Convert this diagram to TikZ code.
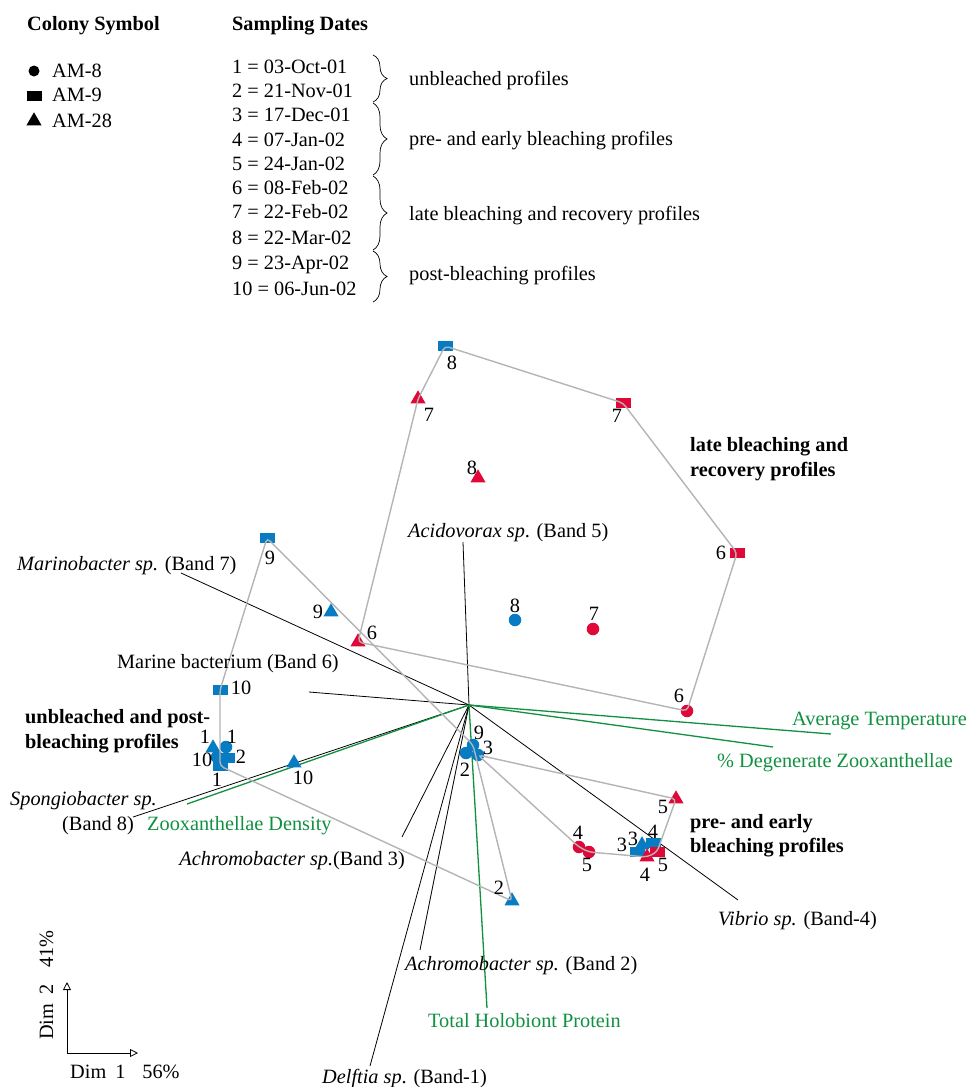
\documentclass[tikz,border=0pt]{standalone}
\usepackage{fontspec}
\setmainfont{Liberation Serif}
\usetikzlibrary{shapes.geometric,decorations.pathreplacing,arrows.meta}
\definecolor{amblue}{RGB}{8,124,194}
\definecolor{amred}{RGB}{224,8,56}
\definecolor{amgreen}{RGB}{16,144,64}
\definecolor{amgrey}{RGB}{180,180,180}

\begin{document}
\begin{tikzpicture}[x=1pt,y=-1pt]
\tikzstyle{every node}+=[inner sep=0pt,font=\fontsize{20.3}{24}\selectfont]
\tikzstyle{amdot}=[circle,minimum size=12.5pt]
\tikzstyle{amsq}=[rectangle,minimum width=15pt,minimum height=10.5pt]
\tikzstyle{amtri}=[regular polygon,regular polygon sides=3,minimum size=17.5pt]
\tikzstyle{vec}=[black,line width=0.8pt]
\tikzstyle{env}=[amgreen,line width=1.3pt]
\tikzstyle{hull}=[amgrey,line width=1.4pt,rounded corners=4pt]
\tikzstyle{lab}=[anchor=base west]
\tikzstyle{grp}=[anchor=base west,font=\fontsize{20.3}{24}\selectfont\bfseries]
\tikzstyle{bracket}=[decorate,decoration={brace,amplitude=14pt},line width=0.7pt]
\tikzstyle{dimaxis}=[line width=0.8pt,-{Triangle[open,length=8pt,width=8pt]}]
\useasboundingbox (0,0) rectangle (971,1087);

\node[grp] (hColony) at (27,30) {Colony Symbol};
\node[grp] (hDates) at (232,30) {Sampling Dates};
\node[amdot,fill=black,minimum size=11pt] (kDot) at (34,71) {};
\node[amsq,fill=black] (kSq) at (34,96) {};
\node[amtri,fill=black] (kTri) at (34,121) {};
\node[lab] (kAM8) at (52,77) {AM-8};
\node[lab] (kAM9) at (52,101) {AM-9};
\node[lab] (kAM28) at (52,127) {AM-28};

\node[lab] (d1) at (232,73) {1 = 03-Oct-01};
\node[lab] (d2) at (232,97) {2 = 21-Nov-01};
\node[lab] (d3) at (232,121) {3 = 17-Dec-01};
\node[lab] (d4) at (232,146) {4 = 07-Jan-02};
\node[lab] (d5) at (232,170) {5 = 24-Jan-02};
\node[lab] (d6) at (232,194) {6 = 08-Feb-02};
\node[lab] (d7) at (232,218) {7 = 22-Feb-02};
\node[lab] (d8) at (232,244) {8 = 22-Mar-02};
\node[lab] (d9) at (232,269) {9 = 23-Apr-02};
\node[lab] (d10) at (232,295) {10 = 06-Jun-02};
\draw[bracket] (373,55) -- (373,102);
\draw[bracket] (373,103) -- (373,175);
\draw[bracket] (373,176) -- (373,250);
\draw[bracket] (373,251) -- (373,302);
\node[lab] (bUnb) at (409,85) {unbleached profiles};
\node[lab] (bPre) at (409,145) {pre- and early bleaching profiles};
\node[lab] (bLate) at (409,220) {late bleaching and recovery profiles};
\node[lab] (bPost) at (409,280) {post-bleaching profiles};

\coordinate (O) at (469,705);
\coordinate (eAcido) at (463,542);
\coordinate (eMarino) at (181,573);
\coordinate (eMarine) at (309,692);
\coordinate (eSpongio) at (133,817);
\coordinate (eAchroC) at (402,837);
\coordinate (eAchroB) at (420,950);
\coordinate (eDelftia) at (370,1066);
\coordinate (eVibrio) at (738,900);
\coordinate (eDens) at (187,804);
\coordinate (eProt) at (487,1008);
\coordinate (eTemp) at (831,734);
\coordinate (eDegen) at (773,747);
\draw[vec] (O) -- (eAcido);
\draw[vec] (O) -- (eMarino);
\draw[vec] (O) -- (eMarine);
\draw[vec] (O) -- (eSpongio);
\draw[vec] (O) -- (eAchroC);
\draw[vec] (O) -- (eAchroB);
\draw[vec] (O) -- (eDelftia);
\draw[vec] (O) -- (eVibrio);
\draw[env] (O) -- (eDens);
\draw[env] (O) -- (eProt);
\draw[env] (O) -- (eTemp);
\draw[env] (O) -- (eDegen);

\node[amtri,fill=amblue] (t1) at (213,748) {};
\node[amsq,fill=amblue] (s1) at (220,766) {};
\node[amdot,fill=amblue] (c10) at (217,757) {};
\node[amsq,fill=amblue] (s2) at (227,758) {};
\node[amdot,fill=amblue] (c1) at (226,747) {};
\node[amtri,fill=amblue] (t10) at (294,763) {};
\node[amsq,fill=amblue] (s10) at (220,690) {};
\node[amsq,fill=amblue] (s9) at (267,538) {};
\node[amtri,fill=amblue] (t9) at (331,612) {};
\node[amtri,fill=amred] (t6) at (358,642) {};
\node[amtri,fill=amred] (t7) at (418,399) {};
\node[amsq,fill=amblue] (s8) at (445,346) {};
\node[amtri,fill=amred] (t8) at (478,478) {};
\node[amsq,fill=amred] (s7) at (623,403) {};
\node[amsq,fill=amred] (s6) at (737,553) {};
\node[amdot,fill=amblue] (c8) at (515,620) {};
\node[amdot,fill=amred] (c7) at (593,629) {};
\node[amdot,fill=amred] (c6) at (687,711) {};
\node[amdot,fill=amblue] (c2) at (466,753) {};
\node[amdot,fill=amblue] (c9) at (473,745) {};
\node[amdot,fill=amblue] (c3) at (478,755) {};
\node[amtri,fill=amblue] (t2) at (512,901) {};
\node[amdot,fill=amred] (c4) at (579,847) {};
\node[amdot,fill=amred] (c5) at (589,852) {};
\node[amtri,fill=amred] (t5) at (676,799) {};
\node[amsq,fill=amblue] (s3) at (637,852) {};
\node[amtri,fill=amblue] (t3) at (642,845) {};
\node[amsq,fill=amblue] (s4) at (653,843) {};
\node[amtri,fill=amred] (t4) at (647,857) {};
\node[amsq,fill=amred] (s5) at (657,852) {};

\draw[hull] (t6.center) -- (t7.center) -- (s8.center) -- (s7.center) -- (s6.center) -- (c6.center) -- cycle;
\draw[hull] (s9.center) -- (c9.center) -- (t2.center) -- (s1.center) -- (s10.center) -- cycle;
\draw[hull] (c3.center) -- (t5.center) -- (s5.center) -- (t4.center) -- (c5.center) -- (c4.center) -- cycle;

\node (nt1) at (205,737) {1};
\node (nc1) at (232,737) {1};
\node (nc10) at (202,760) {10};
\node (ns2) at (241,757) {2};
\node (ns1) at (217,780) {1};
\node (nt10) at (303,778) {10};
\node (ns10) at (241,688) {10};
\node (ns9) at (270,558) {9};
\node (nt9) at (318,612) {9};
\node (nt6) at (372,633) {6};
\node (nt7) at (429,415) {7};
\node (ns8) at (452,363) {8};
\node (nt8) at (472,468) {8};
\node (ns7) at (617,416) {7};
\node (ns6) at (721,553) {6};
\node (nc8) at (515,606) {8};
\node (nc7) at (594,614) {7};
\node (nc6) at (679,696) {6};
\node (nc9) at (479,733) {9};
\node (nc3) at (488,748) {3};
\node (nc2) at (465,770) {2};
\node (nt2) at (499,888) {2};
\node (nc4) at (578,833) {4};
\node (nc5) at (587,865) {5};
\node (nt5) at (663,807) {5};
\node (ns3) at (622,845) {3};
\node (nt3) at (633,839) {3};
\node (ns4) at (653,832) {4};
\node (nt4) at (645,875) {4};
\node (ns5) at (663,865) {5};

\node[lab] (lAcido) at (408,537) {\textit{Acidovorax sp}. (Band 5)};
\node[lab] (lMarino) at (17,570) {\textit{Marinobacter sp.} (Band 7)};
\node[lab] (lMarine) at (117,668) {Marine bacterium (Band 6)};
\node[lab] (lSpongio) at (10,805) {\textit{Spongiobacter sp.}};
\node[lab] (lSpongioB) at (62,830) {(Band 8)};
\node[anchor=base east] (lAchroC) at (405,865) {\textit{Achromobacter sp.}(Band 3)};
\node[lab] (lAchroB) at (405,970) {\textit{Achromobacter sp.} (Band 2)};
\node[lab] (lDelftia) at (322,1083) {\textit{Delftia sp}. (Band-1)};
\node[lab] (lVibrio) at (718,925) {\textit{Vibrio sp.} (Band-4)};
\node[lab,amgreen] (lDens) at (147,830) {Zooxanthellae Density};
\node[lab,amgreen] (lProt) at (428,1027) {Total Holobiont Protein};
\node[lab,amgreen] (lTemp) at (792,725) {Average Temperature};
\node[lab,amgreen] (lDegen) at (717,767) {\% Degenerate Zooxanthellae};

\node[grp] (gLateA) at (690,451) {late bleaching and};
\node[grp] (gLateB) at (690,476) {recovery profiles};
\node[grp] (gPreA) at (690,828) {pre- and early};
\node[grp] (gPreB) at (690,852) {bleaching profiles};
\node[grp] (gUnbA) at (25,723) {unbleached and post-};
\node[grp] (gUnbB) at (25,748) {bleaching profiles};

\coordinate (dimO) at (67,1053);
\coordinate (dimY) at (67,982);
\coordinate (dimX) at (138,1053);
\draw[dimaxis] (dimO) -- (dimY);
\draw[dimaxis] (dimO) -- (dimX);
\node[lab] (lDim1) at (70,1078) {Dim\hspace{9pt}1\hspace{17pt}56\%};
\node[lab,rotate=90] (lDim2) at (53,1040) {Dim\hspace{9pt}2\hspace{17pt}41\%};
\end{tikzpicture}
\end{document}
